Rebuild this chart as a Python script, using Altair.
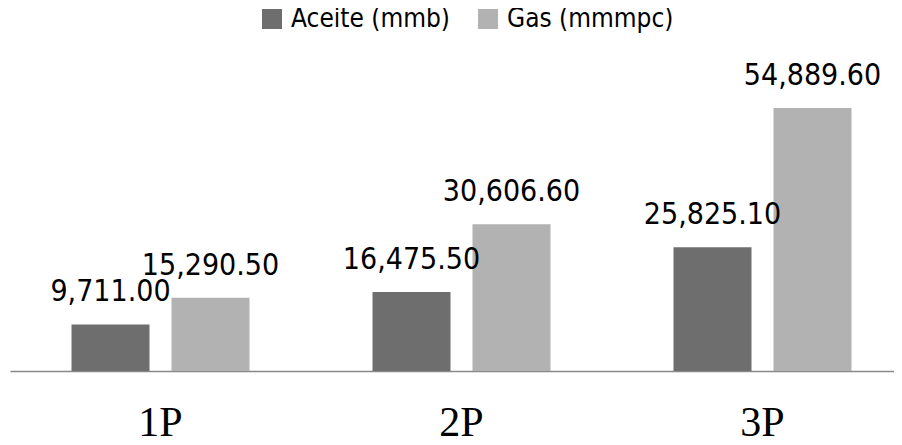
import altair as alt
import pandas as pd

categories = ["1P", "2P", "3P"]
series = ["Aceite (mmb)", "Gas (mmmpc)"]
aceite = [9711.00, 16475.50, 25825.10]
gas = [15290.50, 30606.60, 54889.60]
colors = ["#6e6e6e", "#b2b2b2"]

rows = []
for i, c in enumerate(categories):
    rows.append({"cat": c, "serie": series[0], "valor": aceite[i]})
    rows.append({"cat": c, "serie": series[1], "valor": gas[i]})
df = pd.DataFrame(rows)

FONT = "DejaVu Sans Condensed, sans-serif"

x = alt.X(
    "cat:N",
    sort=categories,
    scale=alt.Scale(paddingInner=0, paddingOuter=0),
    axis=alt.Axis(
        title=None, labelAngle=0, labelFont="Liberation Serif", labelFontSize=42,
        labelColor="#000000", labelBaseline="alphabetic", labelPadding=64,
        ticks=False, tickSize=0, domainColor="#898989", domainWidth=1.5, grid=False,
    ),
)
xo = alt.XOffset("serie:N", sort=series, scale=alt.Scale(paddingInner=0.22, paddingOuter=0.615))
y = alt.Y("valor:Q", scale=alt.Scale(domain=[0, 64900], nice=False), axis=None)
color = alt.Color(
    "serie:N",
    sort=series,
    scale=alt.Scale(domain=series, range=colors),
    legend=alt.Legend(
        title=None, orient="none", legendX=249, legendY=-54, direction="horizontal",
        symbolType="square", symbolSize=400, symbolStrokeWidth=0,
        labelFont=FONT, labelFontSize=26, labelColor="#000000", labelOffset=6,
        columnPadding=25, labelLimit=0, padding=0,
    ),
)

base = alt.Chart(df).encode(x=x, xOffset=xo, y=y)
bars = base.mark_bar().encode(color=color)
text = base.mark_text(baseline="alphabetic", dy=-23, font=FONT, fontSize=30, color="#000000").encode(
    text=alt.Text("valor:Q", format=",.2f")
)

chart = alt.layer(bars, text).properties(
    width=903, height=311,
    autosize=alt.AutoSizeParams(type="none"),
    padding={"left": 2, "top": 52, "right": -19, "bottom": 66},
).configure_view(stroke="transparent")

chart.save("out.html", embed_options={"renderer": "svg", "actions": False})
